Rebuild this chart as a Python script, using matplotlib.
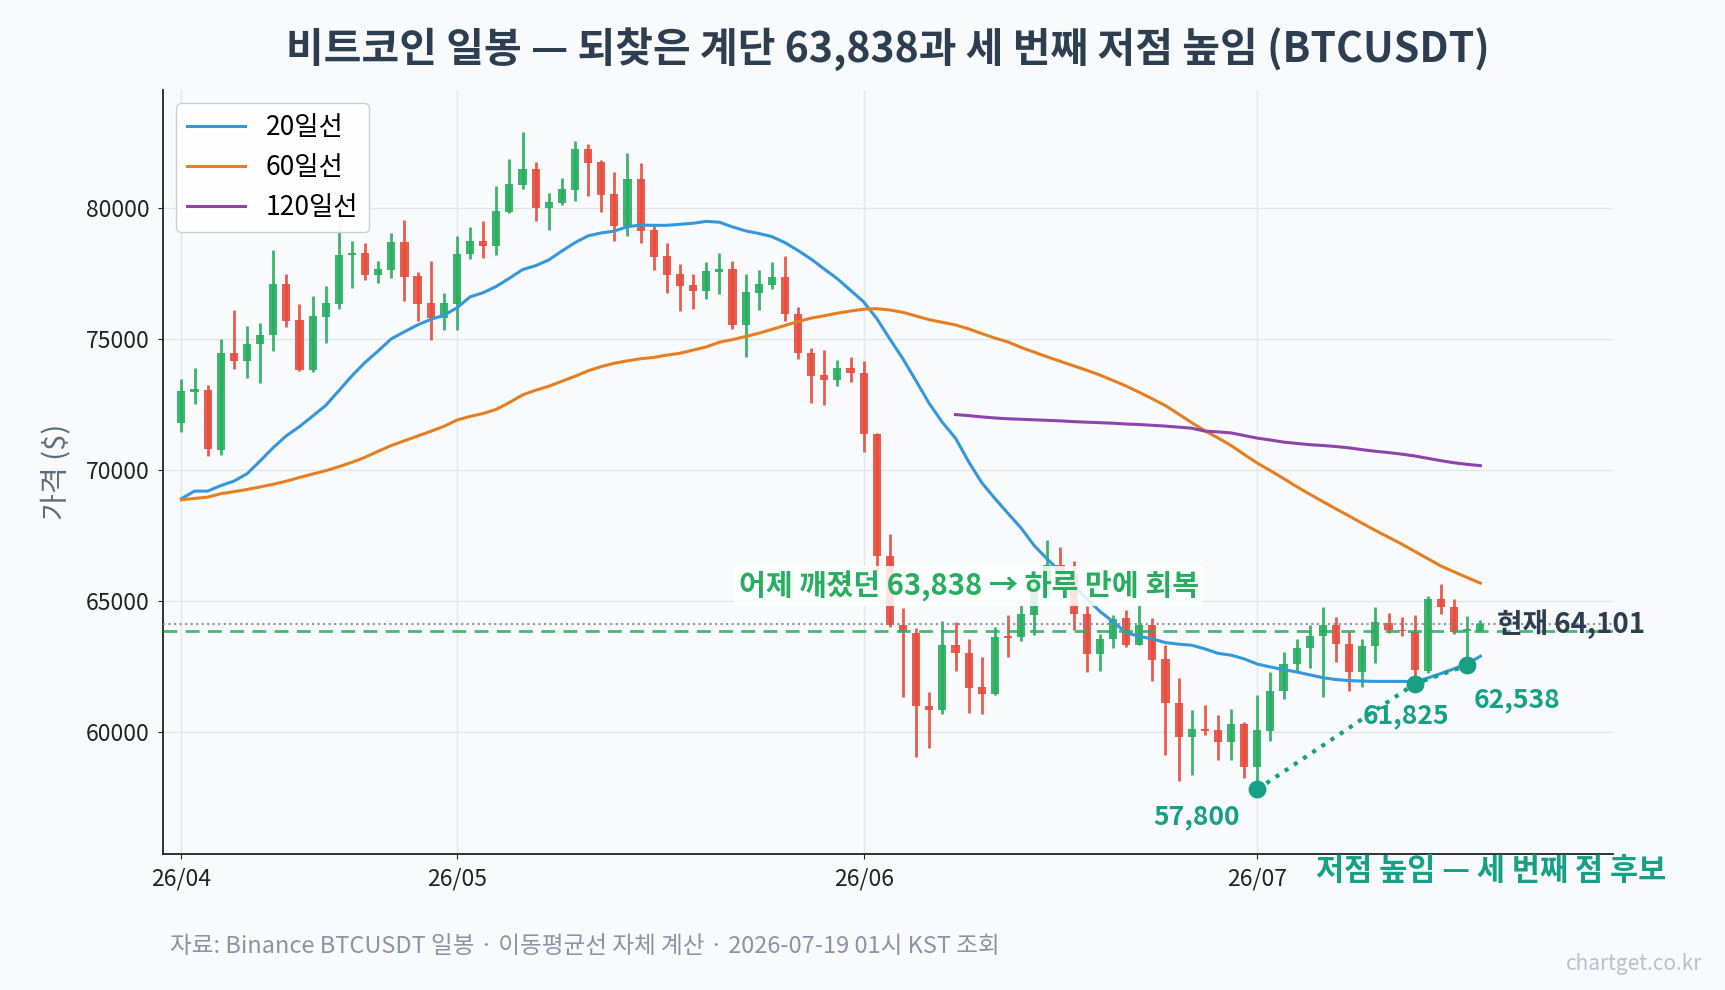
import matplotlib
matplotlib.use("Agg")
import matplotlib.pyplot as plt
import numpy as np
import pandas as pd

plt.rcParams['font.family'] = ['Noto Sans CJK KR', 'DejaVu Sans']
plt.rcParams['axes.unicode_minus'] = False

# daily candles, BTCUSDT, 2026-04-10 .. 2026-07-18
START = "2026-04-10"
opens = [71780, 72980, 73050, 70740, 74430, 74150, 74810, 75130, 77070, 75700,
         73790, 75830, 76320, 78170, 78260, 77430, 77620, 78680, 77380, 76350,
         75790, 76320, 78230, 78720, 78540, 79820, 80860, 81460, 79990, 80180,
         80670, 82230, 81730, 80510, 79290, 81080, 79130, 78140, 77460, 77040,
         76820, 77540, 77650, 75520, 76740, 77030, 77330, 75950, 74460, 73610,
         73420, 73880, 73690, 71370, 66720, 64090, 63780, 60970, 60820, 63310,
         63010, 61690, 61450, 63640, 63600, 64470, 65550, 66350, 66050, 64500,
         62960, 63550, 64330, 63320, 64070, 62760, 61110, 59800, 60100, 60050,
         59610, 60280, 58650, 60040, 61570, 62600, 63180, 63650, 64060, 63350,
         62280, 63260, 64150, 63890, 63790, 62300, 65050, 64770, 63840, 63860]
highs = [73470, 73860, 73220, 74980, 76080, 75470, 75600, 78370, 77460, 76310,
         76620, 77000, 79390, 78720, 78630, 77950, 79010, 79520, 77530, 77950,
         76730, 78920, 79250, 79480, 80810, 81840, 82870, 81730, 80550, 81120,
         82530, 82420, 81810, 81350, 82070, 81690, 79290, 78640, 77840, 77460,
         77910, 78260, 77950, 77450, 77600, 77940, 78150, 76210, 74640, 74560,
         74170, 74300, 74150, 71400, 67530, 64710, 63940, 61530, 64220, 64180,
         63520, 62840, 64000, 64470, 64820, 65950, 67330, 67030, 66500, 64780,
         63730, 64440, 64640, 64820, 64340, 63300, 62050, 60810, 61000, 60620,
         60850, 60370, 61390, 62270, 63030, 63550, 64060, 64750, 64360, 63830,
         63550, 64750, 64540, 64360, 64470, 65160, 65650, 65050, 64430, 64280]
lows = [71440, 72500, 70520, 70560, 73820, 73500, 73310, 74530, 75450, 73770,
        73730, 74840, 76130, 76930, 77230, 77110, 77320, 76430, 75660, 74940,
        75320, 75320, 78040, 78080, 78190, 79780, 80700, 79490, 79150, 80100,
        80250, 80450, 79830, 78730, 78920, 78650, 77620, 76740, 76060, 76130,
        76510, 76710, 75360, 74290, 76100, 76890, 75660, 74230, 72560, 72470,
        73200, 73360, 70670, 66100, 64010, 61330, 59040, 59390, 60670, 62330,
        60700, 60660, 61400, 62850, 63460, 63700, 65300, 65650, 63890, 62280,
        62300, 63190, 63230, 63300, 61930, 59100, 58110, 58330, 59890, 58920,
        58920, 58230, 57800, 59630, 61260, 62280, 62430, 61320, 62660, 61570,
        61710, 62640, 63770, 63640, 61825, 62240, 64490, 63720, 62538, 63820]
closes = [72990, 73070, 70770, 74430, 74150, 74810, 75150, 77070, 75660, 73790,
          75850, 76350, 78180, 78260, 77430, 77650, 78680, 77350, 76320, 75790,
          76350, 78240, 78720, 78540, 79860, 80890, 81460, 79990, 80200, 80700,
          82230, 81700, 80480, 79290, 81080, 79110, 78120, 77430, 77010, 76820,
          77570, 77650, 75520, 76770, 77070, 77330, 75930, 74430, 73580, 73420,
          73880, 73680, 71360, 66700, 64080, 63820, 60970, 60820, 63310, 63010,
          61660, 61420, 63600, 63580, 64500, 65600, 66370, 66000, 64490, 62960,
          63550, 64310, 63310, 64090, 62740, 61100, 59800, 60110, 60030, 59610,
          60280, 58650, 60050, 61570, 62600, 63180, 63650, 64060, 63350, 62280,
          63260, 64170, 63890, 63830, 62340, 65050, 64750, 63820, 63910, 64101]

ma20 = [68890, 69180, 69180, 69390, 69560, 69840, 70330, 70840, 71290, 71640,
        72040, 72450, 73010, 73580, 74090, 74530, 74990, 75260, 75520, 75730,
        75890, 76170, 76590, 76750, 76990, 77300, 77630, 77780, 78000, 78340,
        78660, 78920, 79030, 79100, 79270, 79330, 79320, 79320, 79360, 79400,
        79470, 79440, 79260, 79110, 79010, 78890, 78660, 78360, 78030, 77650,
        77280, 76840, 76400, 75760, 74980, 74220, 73380, 72520, 71800, 71200,
        70300, 69500, 68900, 68330, 67770, 67100, 66580, 66100, 65560, 65080,
        64590, 64200, 63780, 63640, 63540, 63400, 63340, 63300, 63160, 62990,
        62920, 62780, 62580, 62470, 62370, 62280, 62170, 62060, 61990, 61950,
        61930, 61920, 61920, 61920, 61910, 62050, 62220, 62400, 62590, 62880]
ma60 = [68850, 68900, 68950, 69080, 69160, 69240, 69340, 69440, 69560, 69700,
        69830, 69960, 70110, 70280, 70470, 70700, 70920, 71100, 71280, 71460,
        71650, 71890, 72030, 72140, 72300, 72560, 72850, 73030, 73180, 73370,
        73560, 73770, 73930, 74060, 74150, 74230, 74280, 74370, 74440, 74560,
        74680, 74860, 74960, 75080, 75200, 75350, 75500, 75650, 75780, 75870,
        75970, 76050, 76120, 76140, 76090, 76000, 75860, 75720, 75620, 75520,
        75370, 75190, 75020, 74870, 74660, 74480, 74300, 74130, 73960, 73790,
        73610, 73400, 73190, 72950, 72700, 72440, 72120, 71790, 71480, 71210,
        70920, 70580, 70250, 69960, 69660, 69350, 69060, 68780, 68500, 68230,
        67950, 67680, 67420, 67160, 66880, 66600, 66320, 66100, 65880, 65670]
# 120-day line only exists from the 60th candle on
ma120_start = 59
ma120 = [72100, 72060, 72010, 71970, 71940, 71920, 71900, 71880, 71860, 71830,
         71810, 71790, 71770, 71740, 71720, 71690, 71660, 71620, 71580, 71470,
         71440, 71400, 71300, 71200, 71130, 71050, 71000, 70950, 70920, 70880,
         70830, 70760, 70700, 70650, 70590, 70520, 70430, 70340, 70260, 70200,
         70150]

LEVEL = 63838
CURRENT = 64101
lows_idx = [82, 94, 98]
lows_val = [57800, 61825, 62538]

BG = "#f8fafc"
UP = "#27ae60"
DOWN = "#e74c3c"
TEAL = "#16a085"
DARK = "#2c3e50"

o = np.array(opens); h = np.array(highs); l = np.array(lows); c = np.array(closes)
x = np.arange(len(o))
dates = pd.date_range(START, periods=len(o), freq="D")
colors = np.where(c >= o, UP, DOWN)

fig = plt.figure(figsize=(17.25, 9.9), dpi=100, facecolor=BG)
ax = fig.add_axes([0.0945, 0.137, 0.8405, 0.772])
ax.set_facecolor(BG)

ax.vlines(x, l, h, colors=colors, lw=2, alpha=0.9, zorder=2)
body = np.maximum(np.abs(c - o), 60)
ax.bar(x, body, bottom=np.minimum(o, c), width=0.62, color=colors, alpha=0.9, zorder=3)

ax.plot(x, ma20, color="#3498db", lw=2.2, label="20일선", zorder=4)
ax.plot(x, ma60, color="#e67e22", lw=2.2, label="60일선", zorder=4)
ax.plot(np.arange(ma120_start, ma120_start + len(ma120)), ma120,
        color="#8e44ad", lw=2.2, label="120일선", zorder=4)

ax.axhline(LEVEL, color=UP, ls=(0, (5, 3)), lw=2, alpha=0.85, zorder=4)
ax.axhline(CURRENT, color="#7f8c8d", ls=":", lw=1.5, alpha=0.9, zorder=4)

# higher lows
ax.plot(lows_idx, lows_val, color=TEAL, ls=":", lw=3, zorder=5)
ax.scatter(lows_idx, lows_val, s=140, color=TEAL, zorder=6)
ax.text(77.4, 56750, "57,800", color=TEAL, fontsize=19, fontweight="bold", ha="center", va="center")
ax.text(93.3, 60620, "61,825", color=TEAL, fontsize=19, fontweight="bold", ha="center", va="center")
ax.text(101.8, 61200, "62,538", color=TEAL, fontsize=19, fontweight="bold", ha="center", va="center")

ax.text(60, 65560, "어제 깨졌던 63,838 → 하루 만에 회복", color=UP, fontsize=21,
        fontweight="bold", ha="center", va="center", zorder=7,
        bbox=dict(boxstyle="square,pad=0.15", fc="white", ec="none", alpha=0.85))
ax.text(100.3, CURRENT, "현재 64,101", color=DARK, fontsize=20, fontweight="bold",
        ha="left", va="center", zorder=7)
ax.text(99.8, 54680, "저점 높임 — 세 번째 점 후보", color=TEAL, fontsize=22,
        fontweight="bold", ha="center", va="center", clip_on=False)

ticks = [0] + [i for i, d in enumerate(dates) if d.day == 1 and i > 0]
ax.set_xticks(ticks)
ax.set_xticklabels([dates[i].strftime("%y/%m") for i in ticks])
ax.set_xlim(-1.4, 109.1)
ax.set_ylim(55320, 84480)
ax.set_yticks([60000, 65000, 70000, 75000, 80000])
ax.tick_params(labelsize=16.5, colors="#222222", pad=6)
ax.grid(True, color="#e3e6ea", lw=1)
ax.set_axisbelow(True)
for s in ["top", "right"]:
    ax.spines[s].set_visible(False)
for s in ["left", "bottom"]:
    ax.spines[s].set_color("#222222")
    ax.spines[s].set_linewidth(1.3)
ax.set_ylabel("가격 ($)", fontsize=21, color="#5d6d7e", labelpad=10)

leg = ax.legend(loc="upper left", fontsize=19, frameon=True, facecolor="white",
                edgecolor="#cccccc", framealpha=0.95, handlelength=2.2)

fig.text(0.515, 0.95, "비트코인 일봉 — 되찾은 계단 63,838과 세 번째 저점 높임 (BTCUSDT)",
         fontsize=29.5, fontweight="bold", color=DARK, ha="center", va="center")
fig.text(0.0986, 0.044, "자료: Binance BTCUSDT 일봉 · 이동평균선 자체 계산 · 2026-07-19 01시 KST 조회",
         fontsize=17, color="#8a94a6", ha="left", va="center")
fig.text(0.987, 0.026, "chartget.co.kr", fontsize=15, color="#b8c0cc", ha="right", va="center")

fig.savefig("out.png", dpi=100, facecolor=BG)
